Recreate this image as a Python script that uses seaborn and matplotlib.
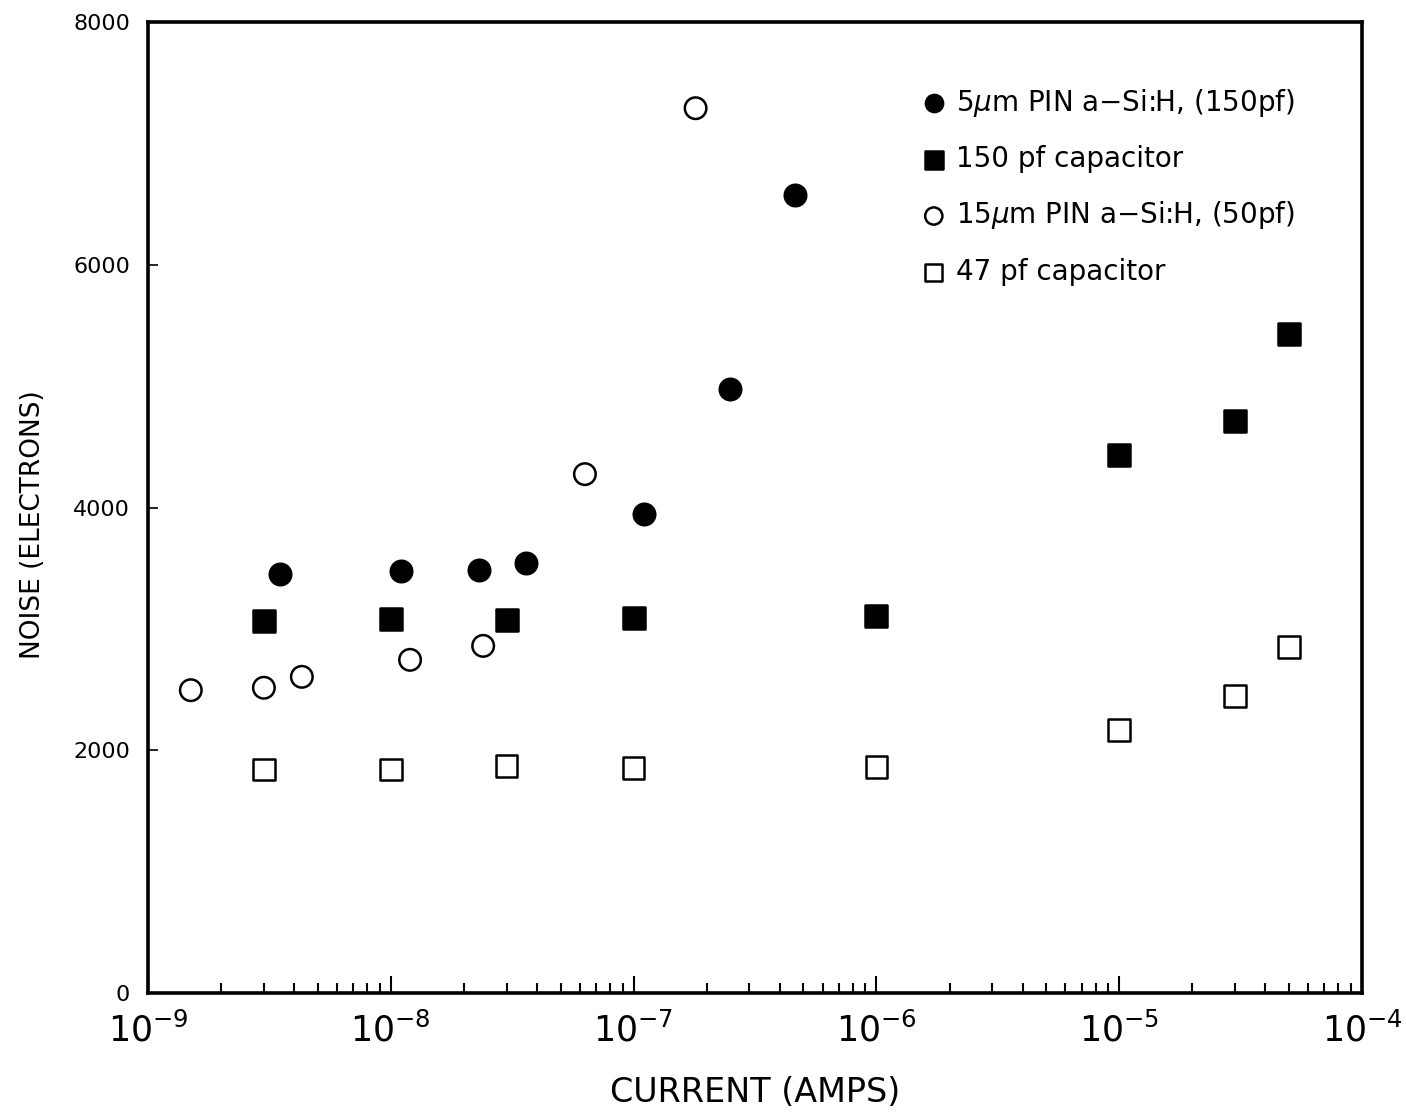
import numpy as np
import pandas as pd
import seaborn as sns
import matplotlib.pyplot as plt
from matplotlib.ticker import LogLocator, NullFormatter, FixedLocator

# 数据
pin5_x = [3.5e-9, 1.1e-8, 2.3e-8, 3.6e-8, 1.1e-7, 2.5e-7, 4.6e-7]
pin5_y = [3450, 3475, 3485, 3540, 3950, 4980, 6575]

cap150_x = [3e-9, 1e-8, 3e-8, 1e-7, 1e-6, 1e-5, 3e-5, 5e-5]
cap150_y = [3065, 3080, 3070, 3090, 3105, 4430, 4715, 5430]

pin15_x = [1.5e-9, 3e-9, 4.3e-9, 1.2e-8, 2.4e-8, 6.3e-8, 1.8e-7]
pin15_y = [2495, 2515, 2605, 2745, 2860, 4275, 7290]

cap47_x = [3e-9, 1e-8, 3e-8, 1e-7, 1e-6, 1e-5, 3e-5, 5e-5]
cap47_y = [1840, 1840, 1870, 1855, 1860, 2165, 2445, 2850]

labels = ['5$\\mu$m PIN a\u2212Si:H, (150pf)', '150 pf capacitor',
          '15$\\mu$m PIN a\u2212Si:H, (50pf)', '47 pf capacitor']

sns.set_style('white')
plt.rcParams['font.family'] = ['DejaVu Sans']
plt.rcParams['mathtext.fontset'] = 'dejavusans'
plt.rcParams['text.color'] = 'black'
plt.rcParams['axes.labelcolor'] = 'black'
plt.rcParams['xtick.color'] = 'black'
plt.rcParams['ytick.color'] = 'black'

fig = plt.figure(figsize=(14.06, 11.18), dpi=100)
ax = fig.add_axes([0.1053, 0.1118, 0.8634, 0.8685])

series = [
    (pin5_x, pin5_y, 'o', 'black', labels[0]),
    (cap150_x, cap150_y, 's', 'black', labels[1]),
    (pin15_x, pin15_y, 'o', 'none', labels[2]),
    (cap47_x, cap47_y, 's', 'none', labels[3]),
]
for xs, ys, m, fc, lab in series:
    df = pd.DataFrame({'x': xs, 'y': ys})
    sns.scatterplot(data=df, x='x', y='y', marker=m, s=240, ax=ax,
                    facecolor=fc, edgecolor='black', linewidth=1.8, label=lab)

ax.set_xscale('log')
ax.set_xlim(1e-9, 1e-4)
ax.set_ylim(0, 8000)

ax.xaxis.set_minor_locator(LogLocator(base=10, subs=np.arange(2, 10), numticks=20))
ax.xaxis.set_minor_formatter(NullFormatter())
ax.set_xticks([1e-9, 1e-8, 1e-7, 1e-6, 1e-5, 1e-4])
ax.set_xticklabels(['$10^{-9}$', '$10^{-8}$', '$10^{-7}$', '$10^{-6}$', '$10^{-5}$', '$10^{-4}$'])
ax.yaxis.set_major_locator(FixedLocator([0, 2000, 4000, 6000, 8000]))

ax.tick_params(axis='x', which='major', direction='in', length=12, width=1.5,
               labelsize=25, pad=14, top=False, bottom=True)
ax.tick_params(axis='x', which='minor', direction='in', length=7.5, width=1.5,
               top=False, bottom=True)
ax.tick_params(axis='y', which='major', direction='in', length=7, width=1.2,
               labelsize=16, pad=13, left=True, right=False)

for sp in ax.spines.values():
    sp.set_linewidth(2.6)
    sp.set_color('black')

ax.set_xlabel('CURRENT (AMPS)', fontsize=24, labelpad=20)
ax.set_ylabel('NOISE (ELECTRONS)', fontsize=19)
ax.yaxis.set_label_coords(-0.084, 0.482)

leg = ax.legend(loc='upper right', frameon=False, fontsize=20, handlelength=1.0,
                handletextpad=0.3, labelspacing=0.95, borderaxespad=0.0,
                markerscale=0.8, bbox_to_anchor=(0.954, 0.945))

fig.savefig('out.png', dpi=100)
